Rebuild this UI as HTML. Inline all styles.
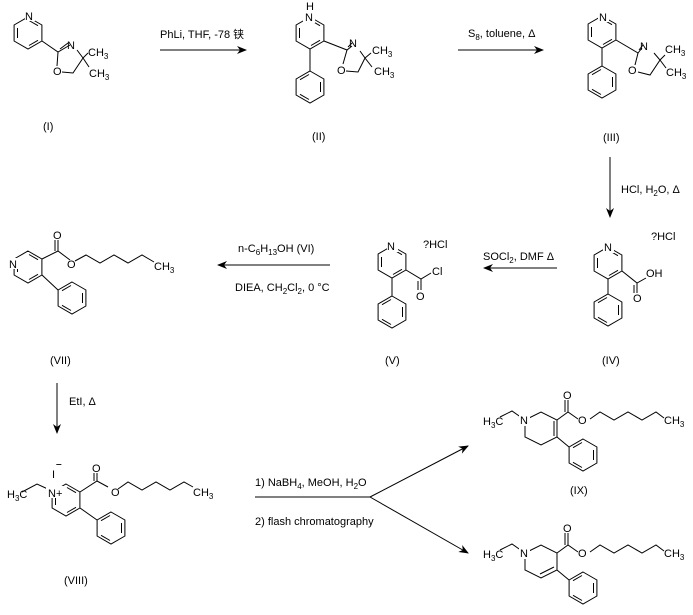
<!DOCTYPE html>
<html><head><meta charset="utf-8"><style>
html,body{margin:0;padding:0;background:#fff;width:693px;height:615px;overflow:hidden}
svg{display:block}
text{font-family:"Liberation Sans","Noto Sans CJK SC",sans-serif;font-size:11px;fill:#000}
.s{font-size:8px}
</style></head><body>
<svg width="693" height="615" viewBox="0 0 693 615" xmlns="http://www.w3.org/2000/svg">
<defs>
<g id="bz2" fill="none" stroke="#000" stroke-width="1">
<polygon points="0,-16 13.9,-8 13.9,8 0,16 -13.9,8 -13.9,-8"/>
<line x1="-10.5" y1="-5" x2="-10.5" y2="5"/>
<line x1="1" y1="12.5" x2="10" y2="7.3"/>
<line x1="10" y1="-7.3" x2="1" y2="-12.5"/>
</g>
<g id="ph" fill="none" stroke="#000" stroke-width="1">
<polygon points="0,-16 13.9,-8 13.9,8 0,16 -13.9,8 -13.9,-8"/>
<line x1="10.5" y1="-5" x2="10.5" y2="5"/>
<line x1="-1" y1="12.5" x2="-10" y2="7.3"/>
<line x1="-10" y1="-7.3" x2="-1" y2="-12.5"/>
</g>
<marker id="ah" markerWidth="10" markerHeight="8" refX="9" refY="4" orient="auto" markerUnits="userSpaceOnUse">
<path d="M0,0 L10,4 L0,8 L3,4 z" fill="#000"/></marker>
</defs>
<g stroke="#000" stroke-width="1" fill="none">
<!-- I -->
<use href="#bz2" x="28" y="33"/>
<polyline points="42,41 58,52 70,45"/>
<line x1="60" y1="49" x2="68" y2="43"/>
<polyline points="58,52 57,66"/>
<polyline points="62,72 73,73 83,58 77,50"/>
<line x1="83" y1="58" x2="88" y2="53"/><line x1="83" y1="58" x2="89" y2="67"/>
<!-- arrow1 -->
<line x1="160" y1="50" x2="246" y2="50" marker-end="url(#ah)"/>
<!-- II -->
<use href="#bz2" x="310" y="33"/>
<line x1="310" y1="49" x2="310" y2="71"/>
<use href="#ph" x="310" y="87"/>
<polyline points="324,41 347,50 352,46"/>
<line x1="348" y1="47" x2="352" y2="43"/>
<line x1="347" y1="50" x2="343" y2="64"/>
<polyline points="346,71 358,72 365,58 360,51"/>
<line x1="365" y1="58" x2="371" y2="53"/><line x1="365" y1="58" x2="372" y2="67"/>
<!-- arrow2 -->
<line x1="458" y1="50" x2="543" y2="50" marker-end="url(#ah)"/>
<!-- III -->
<use href="#bz2" x="602" y="32"/>
<line x1="602" y1="48" x2="602" y2="66"/>
<use href="#ph" x="602" y="82"/>
<polyline points="616,40 638,53 642,48"/>
<line x1="639" y1="50" x2="643" y2="45"/>
<line x1="638" y1="53" x2="635" y2="65"/>
<polyline points="638,72 650,75 660,60 654,53"/>
<line x1="660" y1="60" x2="665" y2="55"/><line x1="660" y1="60" x2="666" y2="68"/>
<!-- arrow3 -->
<line x1="610" y1="157" x2="610" y2="217" marker-end="url(#ah)"/>
<!-- IV -->
<use href="#bz2" x="608" y="263"/>
<line x1="608" y1="279" x2="608" y2="294"/>
<use href="#ph" x="608" y="310"/>
<polyline points="622,271 637,283 646,278"/>
<line x1="637" y1="283" x2="637" y2="293"/><line x1="634" y1="285" x2="634" y2="293"/>
<!-- arrow4 -->
<line x1="557" y1="268" x2="484" y2="268" marker-end="url(#ah)"/>
<!-- V -->
<use href="#bz2" x="392" y="262"/>
<line x1="392" y1="278" x2="392" y2="296"/>
<use href="#ph" x="392" y="312"/>
<polyline points="406,270 421,279 431,273"/>
<line x1="421" y1="279" x2="421" y2="290"/><line x1="418" y1="281" x2="418" y2="290"/>
<!-- arrow5 -->
<line x1="330" y1="265" x2="218" y2="265" marker-end="url(#ah)"/>
<!-- VII -->
<use href="#bz2" x="28" y="267"/>
<line x1="42" y1="275" x2="58" y2="290"/>
<use href="#ph" x="72" y="298"/>
<polyline points="42,259 58,251 70,260"/>
<line x1="58" y1="251" x2="58" y2="240"/><line x1="55" y1="251" x2="55" y2="240"/>
<polyline points="75,261 86,255 100,263 114,255 128,263 142,255 154,262"/>
<!-- arrow6 -->
<line x1="57" y1="383" x2="57" y2="433" marker-end="url(#ah)"/>
<!-- VIII -->
<use href="#bz2" x="66" y="500"/>
<line x1="80" y1="508" x2="97" y2="520"/>
<use href="#ph" x="111" y="528"/>
<polyline points="22,492 37,484 50,490"/>
<polyline points="80,492 97,481 108,487"/>
<line x1="97" y1="481" x2="97" y2="473"/><line x1="94" y1="481" x2="94" y2="473"/>
<polyline points="118,489 128,482 142,490 156,482 170,490 184,482 193,487"/>
<!-- reagent split arrow -->
<line x1="255" y1="497" x2="370" y2="497"/>
<line x1="370" y1="497" x2="468" y2="446" marker-end="url(#ah)"/>
<line x1="370" y1="497" x2="468" y2="553" marker-end="url(#ah)"/>
<!-- IX -->
<polygon points="525,420 541,412 557,420 557,437 541,445 525,437" fill="none"/>
<line x1="554" y1="421" x2="554" y2="436"/>
<use href="#ph" x="583" y="455"/>
<line x1="557" y1="437" x2="569" y2="447"/>
<polyline points="500,417 512,411 522,418"/>
<polyline points="557,420 568,412 578,419"/>
<line x1="568" y1="412" x2="568" y2="400"/><line x1="565" y1="412" x2="565" y2="400"/>
<polyline points="590,419 600,412 614,420 628,412 642,420 656,412 664,418"/>
<!-- X -->
<polygon points="525,553 541,545 557,553 557,570 541,578 525,570" fill="none"/>
<line x1="540" y1="574" x2="554" y2="567"/>
<use href="#ph" x="583" y="588"/>
<line x1="557" y1="570" x2="569" y2="580"/>
<polyline points="500,550 512,544 522,551"/>
<polyline points="557,553 568,545 578,552"/>
<line x1="568" y1="545" x2="568" y2="533"/><line x1="565" y1="545" x2="565" y2="533"/>
<polyline points="590,552 600,545 614,553 628,545 642,553 656,545 664,551"/>
</g>
<g fill="#fff">
<rect x="25" y="10" width="10" height="11"/><rect x="303" y="12" width="12" height="11"/>
<rect x="598" y="11" width="11" height="11"/><rect x="603" y="242" width="11" height="11"/>
<rect x="387" y="241" width="11" height="11"/><rect x="8" y="258" width="11" height="11"/>
<rect x="46" y="486" width="20" height="12"/><rect x="519" y="414" width="11" height="12"/>
<rect x="519" y="547" width="11" height="12"/>
</g>
<text x="25" y="20">N</text>
<text x="67" y="49">N</text><text x="53" y="75">O</text>
<text x="88" y="56">CH<tspan class="s" dy="3">3</tspan></text>
<text x="89" y="77">CH<tspan class="s" dy="3">3</tspan></text>
<text x="43" y="130">(I)</text>
<text x="160" y="38">PhLi, THF, -78 铗</text>
<text x="306" y="10">H</text><text x="305" y="21">N</text>
<text x="349" y="47">N</text><text x="337" y="74">O</text>
<text x="372" y="54">CH<tspan class="s" dy="3">3</tspan></text>
<text x="374" y="75">CH<tspan class="s" dy="3">3</tspan></text>
<text x="312" y="140">(II)</text>
<text x="468" y="37">S<tspan class="s" dy="3">8</tspan><tspan dy="-3">, toluene, Δ</tspan></text>
<text x="599" y="21">N</text>
<text x="640" y="50">N</text><text x="628" y="74">O</text>
<text x="665" y="53">CH<tspan class="s" dy="3">3</tspan></text>
<text x="666" y="76">CH<tspan class="s" dy="3">3</tspan></text>
<text x="603" y="141">(III)</text>
<text x="621" y="193">HCl, H<tspan class="s" dy="3">2</tspan><tspan dy="-3">O, Δ</tspan></text>
<text x="651" y="240">?HCl</text>
<text x="604" y="251">N</text>
<text x="646" y="277">OH</text><text x="633" y="302">O</text>
<text x="602" y="364">(IV)</text>
<text x="483" y="260">SOCl<tspan class="s" dy="3">2</tspan><tspan dy="-3">, DMF Δ</tspan></text>
<text x="423" y="248">?HCl</text>
<text x="387" y="250">N</text>
<text x="432" y="275">Cl</text><text x="416" y="300">O</text>
<text x="385" y="364">(V)</text>
<text x="238" y="252">n-C<tspan class="s" dy="3">6</tspan><tspan dy="-3">H</tspan><tspan class="s" dy="3">13</tspan><tspan dy="-3">OH  (VI)</tspan></text>
<text x="235" y="291">DIEA, CH<tspan class="s" dy="3">2</tspan><tspan dy="-3">Cl</tspan><tspan class="s" dy="3">2</tspan><tspan dy="-3">, 0 °C</tspan></text>
<text x="9" y="268">N</text>
<text x="53" y="239">O</text><text x="67" y="268">O</text>
<text x="154" y="270">CH<tspan class="s" dy="3">3</tspan></text>
<text x="50" y="364">(VII)</text>
<text x="69" y="405">EtI,  Δ</text>
<text x="52" y="478">I</text><text x="57" y="473" style="font-weight:bold">‾</text>
<text x="7" y="498">H<tspan class="s" dy="3">3</tspan><tspan dy="-3">C</tspan></text>
<text x="48" y="497">N+</text>
<text x="92" y="472">O</text><text x="111" y="496">O</text>
<text x="193" y="496">CH<tspan class="s" dy="3">3</tspan></text>
<text x="64" y="584">(VIII)</text>
<text x="255" y="486">1) NaBH<tspan class="s" dy="3">4</tspan><tspan dy="-3">, MeOH, H</tspan><tspan class="s" dy="3">2</tspan><tspan dy="-3">O</tspan></text>
<text x="255" y="525">2) flash chromatography</text>
<text x="483" y="425">H<tspan class="s" dy="3">3</tspan><tspan dy="-3">C</tspan></text>
<text x="520" y="424">N</text>
<text x="563" y="399">O</text><text x="578" y="424">O</text>
<text x="664" y="424">CH<tspan class="s" dy="3">3</tspan></text>
<text x="570" y="494">(IX)</text>
<text x="483" y="558">H<tspan class="s" dy="3">3</tspan><tspan dy="-3">C</tspan></text>
<text x="520" y="557">N</text>
<text x="563" y="532">O</text><text x="578" y="557">O</text>
<text x="664" y="557">CH<tspan class="s" dy="3">3</tspan></text>
</svg>
</body></html>
